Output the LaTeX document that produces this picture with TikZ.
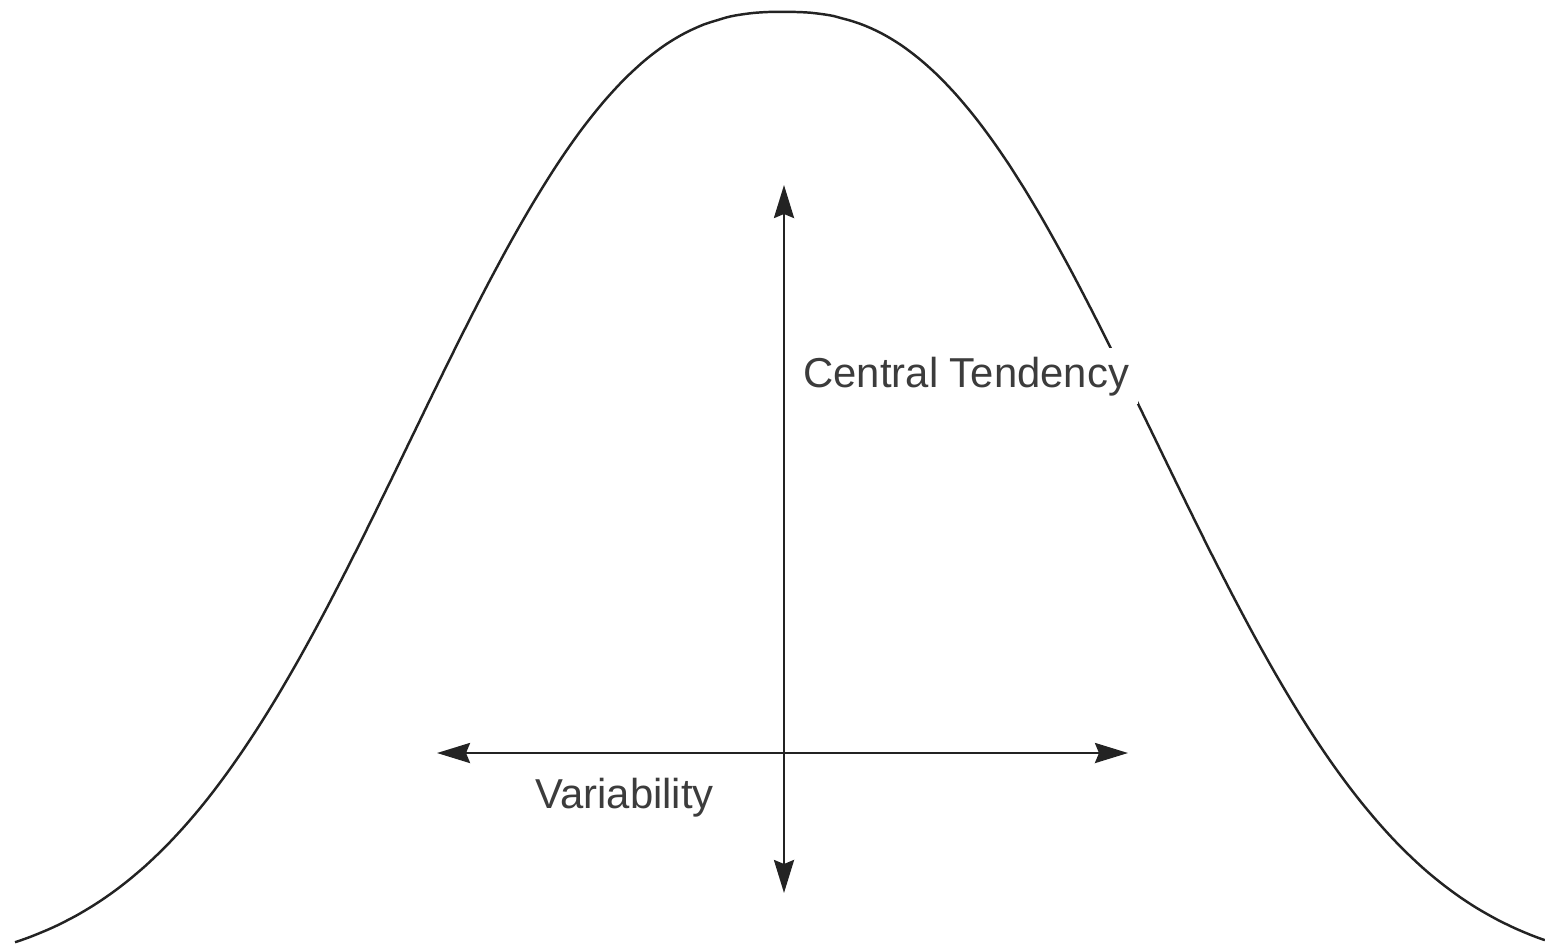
\documentclass[tikz,border=0pt]{standalone}
\usepackage{fontspec}
\setmainfont{Liberation Sans}
\usetikzlibrary{positioning,arrows.meta}
\definecolor{bcInk}{RGB}{35,35,35}
\definecolor{bcText}{RGB}{60,60,60}

\begin{document}
\begin{tikzpicture}[
    bell/.style={draw=bcInk, line width=0.7pt},
    spread/.style={draw=bcInk, line width=0.8pt, {Stealth[length=3.3mm,width=2mm,inset=0.4mm]}-{Stealth[length=3.3mm,width=2mm,inset=0.4mm]}},
    axis note/.style={font=\fontsize{11.9}{14}\selectfont, text=bcText, fill=white, inner sep=2.5pt}
]
  \useasboundingbox (0,0) rectangle (15.45,9.46);

  % the bell curve
  \draw[bell] plot[domain=-7.68:7.62, samples=201, smooth]
    ({7.83+\x}, {-0.26+9.60*exp(-((abs(\x)+0.0001)/4.62)^2.45)});

  \coordinate (ctTop) at (7.84,7.61);
  \coordinate (ctBot) at (7.84,0.53);
  \coordinate (varL) at (4.37,1.93);
  \coordinate (varR) at (11.28,1.93);

  \draw[spread] (ctBot) -- (ctTop);
  \draw[spread] (varL) -- (varR);

  \node[axis note, anchor=base west] (ct) at (7.94,5.59) {Central Tendency};
  \node[axis note, anchor=base west] (var) at (5.26,1.38) {Variability};
\end{tikzpicture}
\end{document}
